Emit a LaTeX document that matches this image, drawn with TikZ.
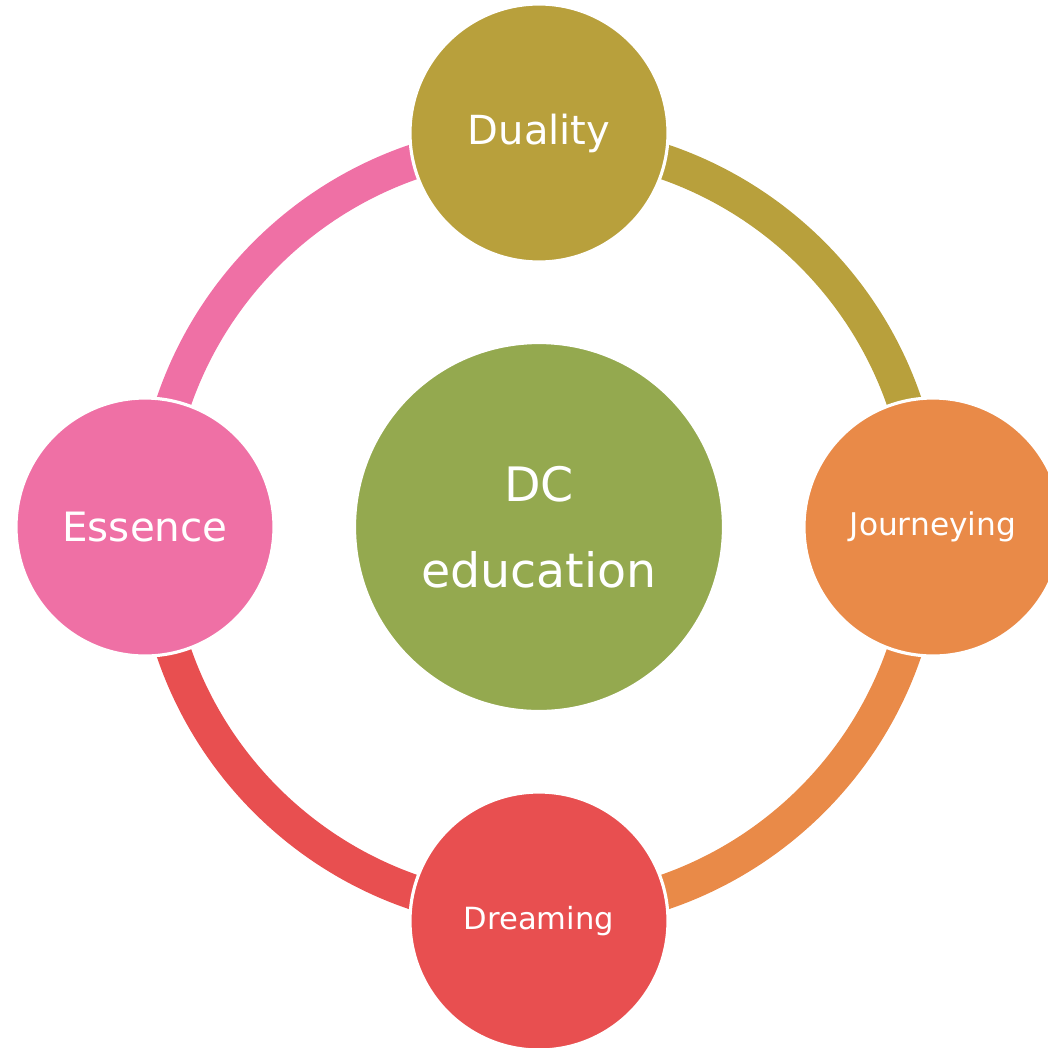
\documentclass[tikz,border=0pt]{standalone}
\usepackage{fontspec}
\setmainfont{DejaVu Sans}
\usetikzlibrary{calc}
\begin{document}
			\begin{tikzpicture}[line join=round, line cap=butt]
				\definecolor{olivegold}{RGB}{184,160,60}
				\definecolor{tangerine}{RGB}{233,138,72}
				\definecolor{coralred}{RGB}{232,79,80}
				\definecolor{rosepink}{RGB}{239,112,165}
				\definecolor{mossgreen}{RGB}{148,169,79}
				
				\clip (-5.39,-5.20) rectangle (5.09,5.27);
				\useasboundingbox (-5.39,-5.20) rectangle (5.09,5.27);
				
				\def\r{3.86}% ring
				\def\R{3.94}% small circles
				\path
				(0,0) coordinate (O);
				
				\tikzset{
					bubble/.style={circle,draw=white,line width=.9pt,inner sep=0pt,
						minimum size=2.58cm,text=white,align=center},
				}
				
				% ring, one quarter per colour
				\foreach \a/\c in {90/olivegold,0/tangerine,-90/coralred,180/rosepink}{
					\draw[\c,line width=.35cm] ($(O)+(\a-90:\r)$) arc (\a-90:\a:\r);
				}
				
				\node[bubble,fill=mossgreen,minimum size=3.69cm,
				font=\fontsize{13.5}{24.5}\selectfont] (dc) at (O) {DC\\education};
				
				\node[bubble,fill=olivegold,font=\fontsize{11.4}{13}\selectfont] (duality) at (90:\R) {Duality};
				\node[bubble,fill=tangerine,font=\fontsize{8.9}{11}\selectfont] (journeying) at (0:\R) {Journeying};
				\node[bubble,fill=coralred,font=\fontsize{8.7}{11}\selectfont] (dreaming) at (-90:\R) {Dreaming};
				\node[bubble,fill=rosepink,font=\fontsize{11.5}{13}\selectfont] (essence) at (180:\R) {Essence};
			\end{tikzpicture}
\end{document}
